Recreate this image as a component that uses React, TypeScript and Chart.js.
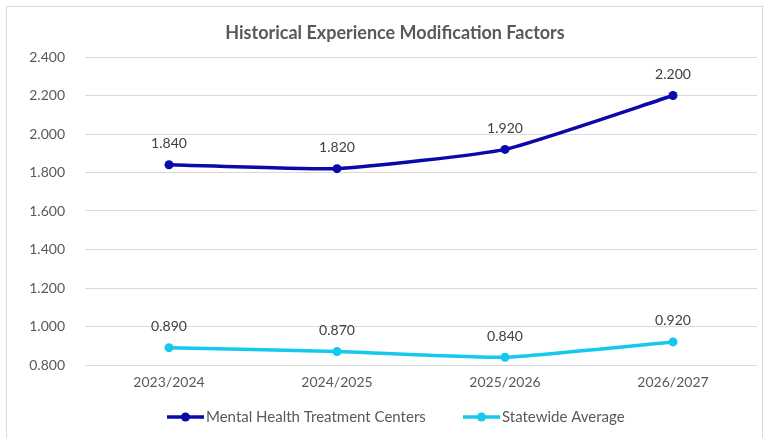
import React, { useEffect, useRef } from "react";
import { Chart, registerables } from "chart.js";

Chart.register(...registerables);

const categories = ["2023/2024", "2024/2025", "2025/2026", "2026/2027"];
const mentalHealth = [1.84, 1.82, 1.92, 2.2];
const statewide = [0.89, 0.87, 0.84, 0.92];
const seriesNames = ["Mental Health Treatment Centers", "Statewide Average"];
const titleText = "Historical Experience Modification Factors";

const DARK = "#0A0AAA";
const LIGHT = "#15C8EE";
const FONT = "Lato";

const decorPlugin = {
  id: "decor",
  beforeDraw(chart: any) {
    const ctx = chart.ctx;
    ctx.save();
    ctx.fillStyle = "#ffffff";
    ctx.fillRect(0, 0, chart.width, chart.height);
    ctx.strokeStyle = "#D9D9D9";
    ctx.lineWidth = 1;
    ctx.strokeRect(6.5, 6.5, chart.width - 9, chart.height + 10);
    ctx.restore();
  },
  afterDraw(chart: any) {
    const ctx = chart.ctx;
    ctx.save();
    // title
    ctx.fillStyle = "#595959";
    ctx.font = `bold 18px ${FONT}`;
    ctx.textAlign = "center";
    ctx.textBaseline = "middle";
    ctx.fillText(titleText, 395, 33);
    // data labels
    ctx.font = `14px ${FONT}`;
    ctx.fillStyle = "#404040";
    chart.data.datasets.forEach((ds: any, i: number) => {
      const meta = chart.getDatasetMeta(i);
      meta.data.forEach((pt: any, j: number) => {
        ctx.fillText(Number(ds.data[j]).toFixed(3), pt.x, pt.y - 21);
      });
    });
    // legend
    const items = [
      { x: 167, color: DARK, text: seriesNames[0] },
      { x: 463, color: LIGHT, text: seriesNames[1] },
    ];
    const ly = 417;
    items.forEach((it) => {
      ctx.strokeStyle = it.color;
      ctx.lineWidth = 3.5;
      ctx.beginPath();
      ctx.moveTo(it.x, ly);
      ctx.lineTo(it.x + 37, ly);
      ctx.stroke();
      ctx.fillStyle = it.color;
      ctx.beginPath();
      ctx.arc(it.x + 18.5, ly, 4.5, 0, Math.PI * 2);
      ctx.fill();
      ctx.fillStyle = "#595959";
      ctx.textAlign = "left";
      ctx.font = `15px ${FONT}`;
      ctx.fillText(it.text, it.x + 39, ly);
    });
    ctx.restore();
  },
};

export default function App() {
  const ref = useRef<HTMLCanvasElement>(null);
  useEffect(() => {
    document.body.style.margin = "0";
    const chart = new Chart(ref.current!, {
      type: "line",
      data: {
        labels: categories,
        datasets: [
          {
            label: seriesNames[0],
            data: mentalHealth,
            borderColor: DARK,
            backgroundColor: DARK,
            borderWidth: 3.5,
            pointRadius: 4.5,
            pointBorderWidth: 0,
            pointHoverRadius: 4.5,
            tension: 0.15,
          },
          {
            label: seriesNames[1],
            data: statewide,
            borderColor: LIGHT,
            backgroundColor: LIGHT,
            borderWidth: 3.5,
            pointRadius: 4.5,
            pointBorderWidth: 0,
            pointHoverRadius: 4.5,
            tension: 0.15,
          },
        ],
      },
      options: {
        animation: false,
        responsive: false,
        layout: { padding: { left: 0, right: 8, top: 57, bottom: 0 } },
        plugins: {
          legend: { display: false },
          title: { display: false },
          tooltip: { enabled: false },
        },
        scales: {
          x: {
            offset: true,
            grid: { display: false, drawTicks: false },
            border: { display: false },
            ticks: { color: "#595959", font: { family: FONT, size: 14 }, padding: 9 },
            afterFit: (s: any) => {
              s.height = 73;
            },
          },
          y: {
            min: 0.8,
            max: 2.4,
            grid: { color: "#D9D9D9", drawTicks: false },
            border: { display: false },
            ticks: {
              stepSize: 0.2,
              color: "#595959",
              font: { family: FONT, size: 14 },
              padding: 20,
              callback: (v: any) => Number(v).toFixed(3),
            },
            afterFit: (s: any) => {
              s.width = 85;
            },
          },
        },
      },
      plugins: [decorPlugin],
    });
    return () => chart.destroy();
  }, []);
  return <canvas ref={ref} width={765} height={438} style={{ display: "block" }} />;
}
